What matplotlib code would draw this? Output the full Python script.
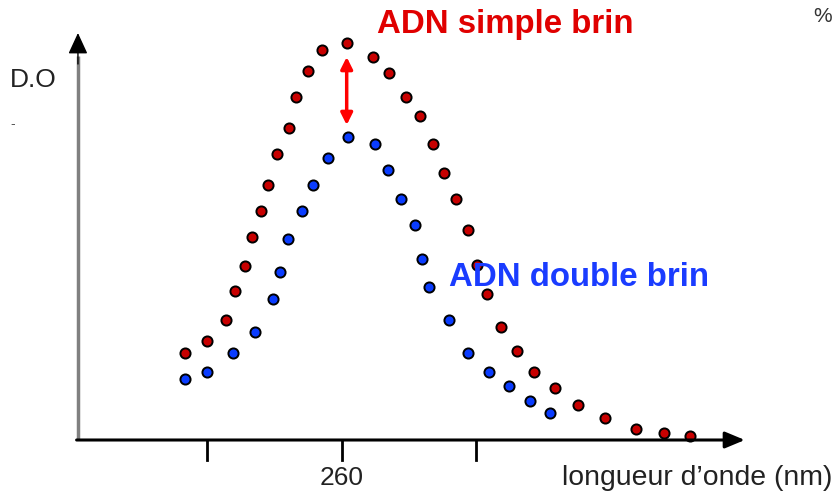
import matplotlib
matplotlib.use("Agg")
import matplotlib.pyplot as plt

# longueur d'onde (nm) et D.O
simple_x = [236.7, 239.9, 242.7, 244.1, 245.6, 246.6, 248.0, 249.0, 250.4, 252.1,
            253.2, 255.0, 257.1, 260.7, 264.6, 267.0, 269.5, 271.6, 273.5, 275.1,
            277.0, 278.7, 280.1, 281.5, 283.6, 286.0, 288.6, 291.7, 295.1, 299.1,
            303.7, 307.9, 311.8]
simple_y = [0.217, 0.247, 0.301, 0.372, 0.436, 0.508, 0.573, 0.638, 0.715, 0.780,
            0.857, 0.922, 0.975, 0.993, 0.958, 0.918, 0.858, 0.810, 0.739, 0.668,
            0.603, 0.525, 0.438, 0.365, 0.283, 0.223, 0.169, 0.129, 0.087, 0.054,
            0.028, 0.017, 0.011]

double_x = [236.7, 239.9, 243.8, 247.0, 249.8, 250.8, 251.9, 254.0, 255.7, 257.9,
            260.9, 264.9, 266.9, 268.8, 270.9, 271.9, 272.9, 275.9, 278.8, 281.9,
            284.8, 287.9, 290.9]
double_y = [0.152, 0.169, 0.217, 0.270, 0.353, 0.420, 0.502, 0.573, 0.638, 0.704,
            0.757, 0.739, 0.675, 0.603, 0.537, 0.453, 0.383, 0.300, 0.217, 0.169,
            0.135, 0.098, 0.068]

ticks = [240, 260, 280]
tick_labels = ["", "260", ""]

plt.rcParams["font.family"] = ["Liberation Sans", "DejaVu Sans"]

fig = plt.figure(figsize=(8.33, 4.91), dpi=100)
ax = fig.add_axes([0, 0, 1, 1])
ax.set_xlim(209.15, 333.01)
ax.set_ylim(-0.1275, 1.1)
ax.axis("off")

x0 = 220.74
# axe vertical (gris) avec pointe noire
ax.plot([x0, x0], [0, 0.96], color="#808080", lw=2.5, solid_capstyle="butt")
ax.annotate("", xy=(x0, 1.0175), xytext=(x0, 0.94),
            arrowprops=dict(arrowstyle="-|>,head_length=1.3,head_width=0.6",
                            lw=1, fc="black", ec="black", shrinkA=0, shrinkB=0))
ax.annotate("", xy=(319.9, 0), xytext=(x0 - 0.2, 0),
            arrowprops=dict(arrowstyle="-|>,head_length=1.2,head_width=0.5",
                            lw=2.2, color="black", shrinkA=0, shrinkB=0))
for t, lab in zip(ticks, tick_labels):
    ax.plot([t, t], [0, -0.05], color="black", lw=2)
    if lab:
        ax.text(t, -0.095, lab, ha="center", va="center", fontsize=19, color="#222222")

ax.plot(simple_x, simple_y, "o", ms=7.3, mfc="#c80000", mec="black", mew=1.4)
ax.plot(double_x, double_y, "o", ms=7.3, mfc="#0a3cff", mec="black", mew=1.4)

# double fleche entre les deux maxima
ax.annotate("", xy=(260.7, 0.9575), xytext=(260.7, 0.7875),
            arrowprops=dict(arrowstyle="<|-|>,head_length=0.7,head_width=0.35",
                            lw=2.5, color="#ff0000", shrinkA=0, shrinkB=0))

ax.text(265.2, 1.0375, "ADN simple brin", color="#e00000", fontsize=23.8,
        fontweight="bold", ha="left", va="center")
ax.text(275.9, 0.4075, "ADN double brin", color="#1a3cff", fontsize=23.8,
        fontweight="bold", ha="left", va="center")
ax.text(210.6, 0.9, "D.O", fontsize=19, color="#222222", ha="left", va="center")
ax.text(210.7, 0.79, "-", fontsize=10, color="#555555", ha="left", va="center")
ax.text(292.7, -0.095, "longueur d\u2019onde (nm)", fontsize=20.4, color="#222222",
        ha="left", va="center")
ax.text(332.9, 1.06, "%", fontsize=15, color="#333333", ha="right", va="center")

fig.savefig("out.png", dpi=100)
